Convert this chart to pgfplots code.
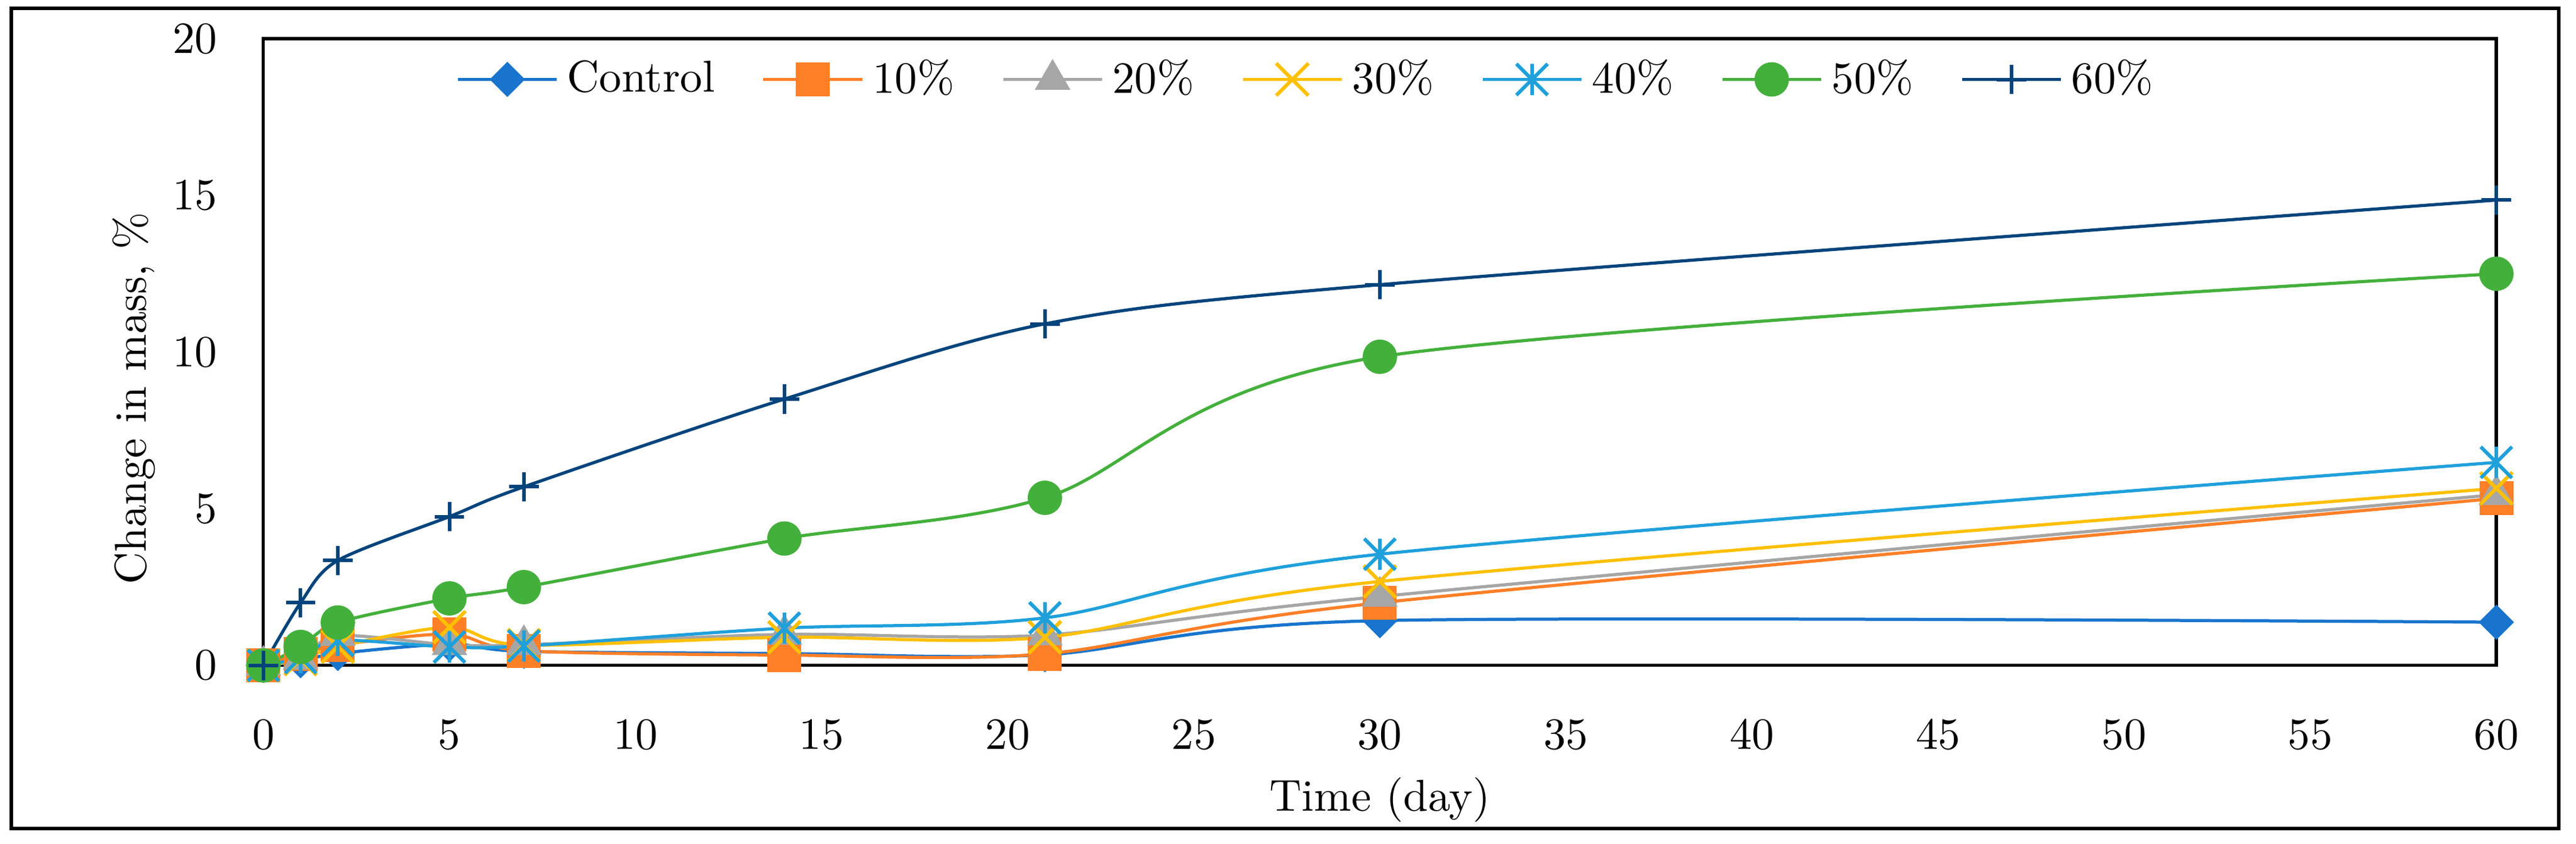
\documentclass[border=0pt]{standalone}
\usepackage{pgfplots}
\pgfplotsset{compat=1.18}
\definecolor{cC}{RGB}{24,116,205}
\definecolor{cA}{RGB}{255,127,39}
\definecolor{cB}{RGB}{166,166,166}
\definecolor{cD}{RGB}{255,192,0}
\definecolor{cE}{RGB}{31,160,219}
\definecolor{cF}{RGB}{68,176,60}
\definecolor{cG}{RGB}{3,68,124}
\pgfdeclareplotmark{xstar}{%
  \pgfpathmoveto{\pgfqpoint{-\pgfplotmarksize}{-\pgfplotmarksize}}%
  \pgfpathlineto{\pgfqpoint{\pgfplotmarksize}{\pgfplotmarksize}}%
  \pgfpathmoveto{\pgfqpoint{-\pgfplotmarksize}{\pgfplotmarksize}}%
  \pgfpathlineto{\pgfqpoint{\pgfplotmarksize}{-\pgfplotmarksize}}%
  \pgfpathmoveto{\pgfqpoint{0pt}{-\pgfplotmarksize}}%
  \pgfpathlineto{\pgfqpoint{0pt}{\pgfplotmarksize}}%
  \pgfusepathqstroke}
\begin{document}
\begin{tikzpicture}
\begin{axis}[
  name=ax,
  scale only axis,
  width=17.60cm, height=4.94cm,
  xmin=0, xmax=60, ymin=0, ymax=20,
  xtick={0,5,...,60}, ytick={0,5,...,20},
  major tick length=0pt,
  axis line style={line width=0.7pt},
  clip=false,
  xticklabel style={yshift=-0.31cm},
  yticklabel style={xshift=-0.24cm},
  xlabel={Time (day)},
  ylabel={Change in mass, \%},
  xlabel style={at={(axis description cs:0.5,-0.2146)}, anchor=center},
  ylabel style={at={(axis description cs:-0.058,0.426)}, anchor=center},
  legend columns=7,
  legend style={at={(axis description cs:0.08,0.935)}, anchor=west, draw=none, fill=none,
    /tikz/every even column/.append style={column sep=0.3cm}},
  legend image code/.code={\draw[mark repeat=2,mark phase=2] plot coordinates {(0cm,0cm) (0.39cm,0cm) (0.78cm,0cm)};},
  every axis plot/.append style={smooth, line width=0.7pt},
]
\addplot[color=cC, mark=square*, mark size=2.6pt, mark options={rotate=45, line width=0.4pt}]
 coordinates {(0,0) (1,0.15) (2,0.38) (5,0.68) (7,0.45) (14,0.38) (21,0.34) (30,1.43) (60,1.38)};
\addlegendentry{Control}
\addplot[color=cA, mark=square*, mark size=3.6pt, mark options={line width=0.4pt}]
 coordinates {(0,0) (1,0.36) (2,0.65) (5,1.0) (7,0.47) (14,0.33) (21,0.37) (30,2.0) (60,5.33)};
\addlegendentry{10\%}
\addplot[color=cB, mark=triangle*, mark size=4.2pt, mark options={line width=0.4pt}]
 coordinates {(0,0) (1,0.2) (2,0.95) (5,0.66) (7,0.66) (14,0.99) (21,0.97) (30,2.2) (60,5.45)};
\addlegendentry{20\%}
\addplot[color=cD, mark=x, mark size=5.1pt, mark options={line width=0.8pt}]
 coordinates {(0,0) (1,0.2) (2,0.6) (5,1.22) (7,0.65) (14,0.9) (21,0.9) (30,2.68) (60,5.65)};
\addlegendentry{30\%}
\addplot[color=cE, mark=xstar, mark size=3.5pt, mark options={line width=0.8pt}]
 coordinates {(0,0) (1,0.25) (2,0.8) (5,0.59) (7,0.62) (14,1.19) (21,1.52) (30,3.55) (60,6.48)};
\addlegendentry{40\%}
\addplot[color=cF, mark=*, mark size=3.66pt, mark options={line width=0.4pt}]
 coordinates {(0,0) (1,0.59) (2,1.37) (5,2.14) (7,2.5) (14,4.05) (21,5.35) (30,9.85) (60,12.5)};
\addlegendentry{50\%}
\addplot[color=cG, mark=+, mark size=3.3pt, mark options={line width=0.8pt}]
 coordinates {(0,0) (1,2.0) (2,3.35) (5,4.75) (7,5.7) (14,8.5) (21,10.9) (30,12.15) (60,14.85)};
\addlegendentry{60\%}
\end{axis}
\draw[line width=0.8pt] ([xshift=-1.987cm,yshift=-1.284cm]ax.south west) rectangle ([xshift=0.492cm,yshift=0.239cm]ax.north east);
\path ([xshift=-2.076cm,yshift=-1.406cm]ax.south west) rectangle ([xshift=0.628cm,yshift=0.305cm]ax.north east);
\end{tikzpicture}
\end{document}
